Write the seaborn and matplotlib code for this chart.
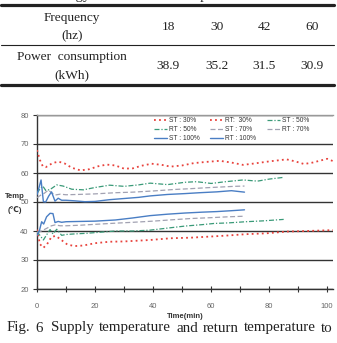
import matplotlib
matplotlib.use("Agg")
import matplotlib.pyplot as plt
from matplotlib import font_manager
from matplotlib.lines import Line2D
import seaborn as sns

# ---------------- data ----------------
freq_labels = ["18", "30", "42", "60"]
power_values = ["38.9", "35.2", "31.5", "30.9"]

t_st30 = [0, 1, 2, 3, 4, 5.5, 7.5, 9.5, 12, 15, 18, 21, 24, 27, 30, 33, 36, 39.5, 43, 46, 50, 54, 58, 63, 67, 71, 75, 80, 86, 89, 92, 95, 100, 102]
y_st30 = [67.9, 64.5, 62.3, 62.0, 62.6, 63.5, 63.9, 63.3, 61.8, 60.9, 61.3, 62.3, 62.9, 62.6, 61.5, 61.6, 62.5, 63.2, 62.8, 62.2, 62.6, 63.4, 63.8, 64.2, 63.6, 62.8, 63.3, 64.0, 64.7, 64.0, 63.1, 63.6, 64.9, 64.1]

t_rt30 = [0, 1, 2.2, 3.5, 5, 6.5, 8, 10.5, 13, 16, 20, 25, 30, 39, 46, 53, 60, 65, 72, 79, 86, 93, 102]
y_rt30 = [40.5, 35.5, 34.2, 35.5, 38.0, 38.3, 37.2, 35.3, 34.8, 35.0, 35.8, 36.3, 36.4, 36.9, 37.5, 37.7, 38.1, 38.4, 38.9, 39.2, 39.8, 40.0, 40.3]

t_st50 = [0, 1, 2, 3, 4.5, 6.8, 9, 12, 16, 20, 25, 30, 35, 39, 45, 51, 55, 60, 65, 71, 76, 80, 85]
y_st50 = [53.0, 54.5, 55.5, 54.0, 54.3, 55.9, 55.5, 54.4, 54.2, 55.0, 55.8, 55.4, 55.9, 56.5, 56.0, 56.8, 57.0, 56.4, 57.0, 57.6, 57.2, 57.9, 58.5]

t_rt50 = [0, 1, 2.2, 3.2, 4.5, 5.5, 6.8, 8.5, 10, 13, 17, 22, 27, 33, 39, 45, 51, 57, 61, 66, 72, 78, 85]
y_rt50 = [39.8, 38.5, 36.9, 38.5, 40.5, 39.0, 40.6, 38.5, 38.8, 39.0, 39.2, 39.6, 40.0, 40.0, 40.3, 41.0, 41.7, 42.2, 42.6, 42.8, 43.2, 43.5, 44.0]

t_st70 = [0, 1.5, 2.5, 3.9, 5, 6.2, 8, 10, 14, 20, 27, 33, 40, 47, 53, 58, 64, 68, 71.5]
y_st70 = [51.5, 52.5, 53.0, 54.1, 53.2, 52.4, 52.7, 52.5, 52.6, 52.8, 53.2, 53.4, 53.8, 54.3, 54.6, 54.9, 55.2, 55.4, 55.5]

t_rt70 = [0, 1.5, 3.3, 5, 6.2, 8, 10, 15, 20, 27, 33, 40, 47, 53, 60, 66, 71.5]
y_rt70 = [39.5, 40.0, 40.9, 41.8, 42.1, 41.8, 41.8, 42.0, 42.3, 42.7, 43.0, 43.4, 43.9, 44.3, 44.6, 44.9, 45.1]

t_st100 = [0, 0.7, 1.4, 2.2, 3, 4, 5, 6.2, 7.3, 8.5, 10, 13, 16.5, 20, 25, 30, 35, 39, 45, 51, 56, 62, 67, 71.5]
y_st100 = [52.5, 55.0, 57.6, 50.1, 50.0, 52.0, 53.5, 50.3, 51.3, 50.6, 50.6, 50.4, 50.1, 50.2, 50.8, 51.2, 51.6, 52.1, 52.6, 52.9, 53.2, 53.5, 53.9, 53.4]

t_rt100 = [0, 0.8, 1.6, 2.3, 3.3, 4.5, 5.5, 6.2, 7.3, 8.5, 10, 15, 20, 27, 33, 39, 45, 51, 57, 62, 67, 71.5]
y_rt100 = [38.5, 40.0, 43.2, 42.4, 44.9, 46.1, 46.0, 42.9, 43.3, 43.0, 43.2, 43.3, 43.4, 43.8, 44.5, 45.3, 45.8, 46.2, 46.5, 46.7, 47.0, 47.3]

series_labels = ["ST : 30%", "RT:  30%", "ST : 50%", "RT : 50%", "ST : 70%", "RT : 70%", "ST : 100%", "RT : 100%"]
x_ticks = [0, 20, 40, 60, 80, 100]
y_ticks = [20, 30, 40, 50, 60, 70, 80]

# ---------------- fonts ----------------
avail = {f.name for f in font_manager.fontManager.ttflist}
narrow = "Liberation Sans Narrow" if "Liberation Sans Narrow" in avail else "Liberation Sans"
SANS = [narrow, "Liberation Sans", "DejaVu Sans"]
SERIF = ["Liberation Serif", "DejaVu Serif"]

sns.set_style("white")
plt.rcParams["font.family"] = SANS

W, H = 337, 343
fig = plt.figure(figsize=(W / 100, H / 100), dpi=100)
fx = lambda px: px / W
fy = lambda py: 1 - py / H

# ---------------- table ----------------
for py, lw in [(5, 2.3), (45, 0.8), (85, 2.3)]:
    fig.add_artist(Line2D([fx(1), fx(334)], [fy(py), fy(py)], color="#222222", lw=lw))

tsize = 9.6
fig.text(fx(72), fy(18), "Frequency", ha="center", va="center", fontsize=tsize, family=SERIF, color="#222")
fig.text(fx(72), fy(35), "(hz)", ha="center", va="center", fontsize=tsize, family=SERIF, color="#222")
fig.text(fx(72), fy(57), "Power  consumption", ha="center", va="center", fontsize=tsize, family=SERIF, color="#222")
fig.text(fx(72), fy(75), "(kWh)", ha="center", va="center", fontsize=tsize, family=SERIF, color="#222")
col_x = [168, 217, 264, 312]
for cx, f, p in zip(col_x, freq_labels, power_values):
    fig.text(fx(cx), fy(27), f, ha="center", va="center", fontsize=tsize, family=SERIF, color="#222")
    fig.text(fx(cx), fy(66), p, ha="center", va="center", fontsize=tsize, family=SERIF, color="#222")

# partially visible title (cut off at top)
fig.text(fx(90), fy(-0.5), "Table 3  Energy", ha="right", va="baseline", fontsize=10.5, family=SERIF, color="#222")
fig.text(fx(155), fy(-0.5), "consumption", ha="left", va="baseline", fontsize=10.5, family=SERIF, color="#222")

# ---------------- chart ----------------
ax = fig.add_axes([fx(37), fy(289), fx(333) - fx(37), fy(115) - fy(289)])

styles = [
    (t_st30, y_st30, "#e8423c", (0, (1, 1.8)), 1.3),
    (t_rt30, y_rt30, "#e8423c", (0, (1, 1.8)), 1.3),
    (t_st50, y_st50, "#3a9a78", (0, (4, 1.5, 1, 1.5)), 0.9),
    (t_rt50, y_rt50, "#3a9a78", (0, (4, 1.5, 1, 1.5)), 0.9),
    (t_st70, y_st70, "#a2a2b2", (0, (4, 2)), 0.9),
    (t_rt70, y_rt70, "#a2a2b2", (0, (4, 2)), 0.9),
    (t_st100, y_st100, "#4a7ec4", "-", 1.0),
    (t_rt100, y_rt100, "#4a7ec4", "-", 1.0),
]
for (tt, yy, c, ls, lw), lab in zip(styles, series_labels):
    sns.lineplot(x=tt, y=yy, ax=ax, color=c, linestyle=ls, linewidth=lw, label=lab, zorder=3)

ax.set_xlim(0, 102)
ax.set_ylim(20, 80)
ax.set_xticks(x_ticks)
ax.set_xticks(list(range(10, 101, 20)), minor=True)
ax.set_yticks(y_ticks)
ax.yaxis.grid(True, color="#333333", lw=1.0)
ax.xaxis.grid(False)
ax.set_axisbelow(True)
for s in ["right"]:
    ax.spines[s].set_visible(False)
ax.spines["top"].set_color("#999999")
ax.spines["top"].set_linewidth(1.0)
ax.spines["left"].set_color("#333333")
ax.spines["bottom"].set_color("#333333")
ax.spines["left"].set_linewidth(1.0)
ax.spines["bottom"].set_linewidth(1.0)

ax.tick_params(axis="y", which="major", left=True, direction="out", length=3, width=0.8,
               color="#333333", labelsize=5.5, labelcolor="#666666", pad=3)
ax.tick_params(axis="x", which="both", bottom=True, direction="inout", length=4, width=0.8,
               color="#333333", labelsize=5.5, labelcolor="#666666", pad=8)
ax.set_xlabel("")
ax.set_ylabel("")

fig.text(fx(185), fy(316), "Time(min)", ha="center", va="center", fontsize=5.5, fontweight="bold", color="#333333")
fig.text(fx(15), fy(197), "Temp", ha="center", va="center", fontsize=5.5, fontweight="bold", color="#333333")
fig.text(fx(15), fy(210), "(\u2103)", ha="center", va="center", fontsize=5.5, fontweight="bold", color="#333333",
         family=SANS)

# legend (row-major order reproduced with column-major fill)
h, l = ax.get_legend_handles_labels()
order = [0, 3, 6, 1, 4, 7, 2, 5]
leg = ax.legend([h[i] for i in order], [l[i] for i in order], ncol=3, frameon=False,
                loc="upper left", bbox_to_anchor=(fx(154), fy(117)), bbox_transform=fig.transFigure,
                fontsize=4.8, handlelength=1.9, handletextpad=0.35, columnspacing=1.6,
                labelspacing=0.3, borderpad=0, borderaxespad=0)
for txt in leg.get_texts():
    txt.set_color("#333333")

# ---------------- caption (justified) ----------------
words = ["Fig.", "6", "Supply", "temperature", "and", "return", "temperature", "to"]
cap = [fig.text(0, fy(328), w, ha="left", va="center", fontsize=10.8, family=SERIF, color="#222")
       for w in words]
fig.canvas.draw()
r = fig.canvas.get_renderer()
widths = [t.get_window_extent(r).width for t in cap]
weights = [1, 1.6, 1, 1, 1, 1, 1]
gap_unit = (333 - 7 - sum(widths)) / sum(weights)
x = 7.0
for i, (t, w) in enumerate(zip(cap, widths)):
    t.set_x(fx(x))
    if i < len(weights):
        x += w + gap_unit * weights[i]

fig.savefig("out.png", dpi=100)
